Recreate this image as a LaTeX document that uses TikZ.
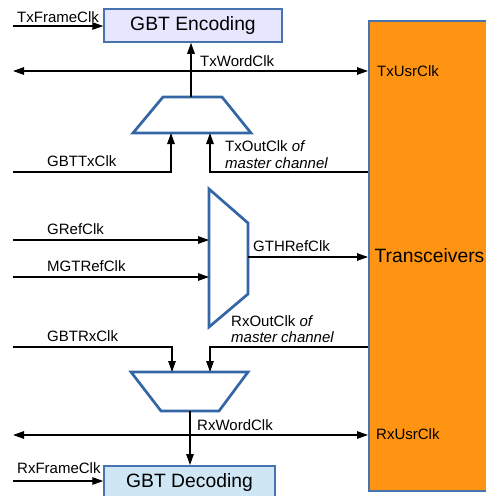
\documentclass[tikz,border=0pt]{standalone}
\usepackage{fontspec}
\setmainfont{Liberation Sans}
\usetikzlibrary{calc,arrows.meta}
\definecolor{trxorange}{RGB}{254,148,17}
\definecolor{boxblue}{RGB}{72,114,176}
\definecolor{muxblue}{RGB}{52,101,164}
\definecolor{encfill}{RGB}{230,230,255}
\definecolor{decfill}{RGB}{207,230,245}
\tikzset{
  >={Triangle[length=11pt,width=7.5pt]},
  clk/.style={line width=1.3pt,->},
  clkboth/.style={line width=1.3pt,<->},
  mux/.style={draw=muxblue,line width=2.7pt,line join=miter},
  blockbox/.style={draw=boxblue,line width=1.5pt,inner sep=0pt,font=\fontsize{19.3}{22}\selectfont},
  trxbox/.style={fill=trxorange,draw=boxblue,line width=2pt,inner sep=0pt,
    minimum width=121pt,minimum height=470pt,font=\fontsize{19.3}{22}\selectfont},
  lbl/.style={anchor=base west,inner sep=0pt,font=\fontsize{15}{16.5}\selectfont}
}
\begin{document}
\begin{tikzpicture}[x=1pt,y=-1pt]
	\useasboundingbox (0,0) rectangle (486,496);
	% blocks
	\node[trxbox] (trx) at (429.5,256) {Transceivers};
	\node[blockbox,fill=encfill,minimum width=178pt,minimum height=33pt] (enc) at (193,25.5) {GBT Encoding};
	\node[blockbox,fill=decfill,anchor=north,minimum width=171pt,text height=21.7pt,text depth=18pt] (dec) at (189.5,465) {GBT Decoding};
	% multiplexers
	\draw[mux] (163,97) -- (222,97) -- (251,133) -- (133,133) -- cycle;
	\draw[mux] (209,189) -- (248,223) -- (248,294) -- (209,327) -- cycle;
	\draw[mux] (131,372) -- (248,372) -- (219,411) -- (161,411) -- cycle;
	\coordinate (txout) at (191,97);
	\coordinate (txin1) at (171,133);
	\coordinate (txin2) at (210,133);
	\coordinate (refin1) at (209,240);
	\coordinate (refin2) at (209,277);
	\coordinate (refout) at (248,257);
	\coordinate (rxin1) at (172,372);
	\coordinate (rxin2) at (210,372);
	\coordinate (rxout) at (190,411);
	% free ends on the left
	\coordinate (txframe) at (13,26);
	\coordinate (txword) at (13,71);
	\coordinate (gbttx) at (13,172);
	\coordinate (gref) at (13,240);
	\coordinate (mgtref) at (13,277);
	\coordinate (gbtrx) at (13,347);
	\coordinate (rxword) at (13,435);
	\coordinate (rxframe) at (13,481);
	% clocks
	\draw[clk] (txframe) -- (txframe -| enc.west);
	\draw[clk] (txout) -- (txout |- enc.south);
	\draw[clkboth] (txword) -- (txword -| trx.west);
	\draw[clk] (gbttx) -| (txin1);
	\draw[clk] (gbttx -| trx.west) -| (txin2);
	\draw[clk] (gref) -- (refin1);
	\draw[clk] (mgtref) -- (refin2);
	\draw[clk] (refout) -- (refout -| trx.west);
	\draw[clk] (gbtrx) -| (rxin1);
	\draw[clk] (gbtrx -| trx.west) -| (rxin2);
	\draw[clk] (rxout) -- (rxout |- dec.north);
	\draw[clkboth] (rxword) -- (rxword -| trx.west);
	\draw[clk] (rxframe) -- (rxframe -| dec.west);
	% labels
	\node[lbl] (txframe-l) at (17,22) {TxFrameClk};
	\node[lbl] (txword-l) at (200,66.5) {TxWordClk};
	\node[lbl] (txusr-l) at (377,76) {TxUsrClk};
	\node[lbl] (gbttx-l) at (47,166.7) {GBTTxClk};
	\node[lbl,align=left] (txoutclk-l) at (225,168) {TxOutClk \textit{of}\\\textit{master channel}};
	\node[lbl] (gref-l) at (47,234) {GRefClk};
	\node[lbl] (mgtref-l) at (47,271.7) {MGTRefClk};
	\node[lbl] (gthref-l) at (253,251.7) {GTHRefClk};
	\node[lbl,align=left] (rxoutclk-l) at (231,342.5) {RxOutClk \textit{of}\\\textit{master channel}};
	\node[lbl] (gbtrx-l) at (47,341) {GBTRxClk};
	\node[lbl] (rxword-l) at (197,430.7) {RxWordClk};
	\node[lbl] (rxusr-l) at (376,439) {RxUsrClk};
	\node[lbl] (rxframe-l) at (17,473.3) {RxFrameClk};
\end{tikzpicture}
\end{document}
